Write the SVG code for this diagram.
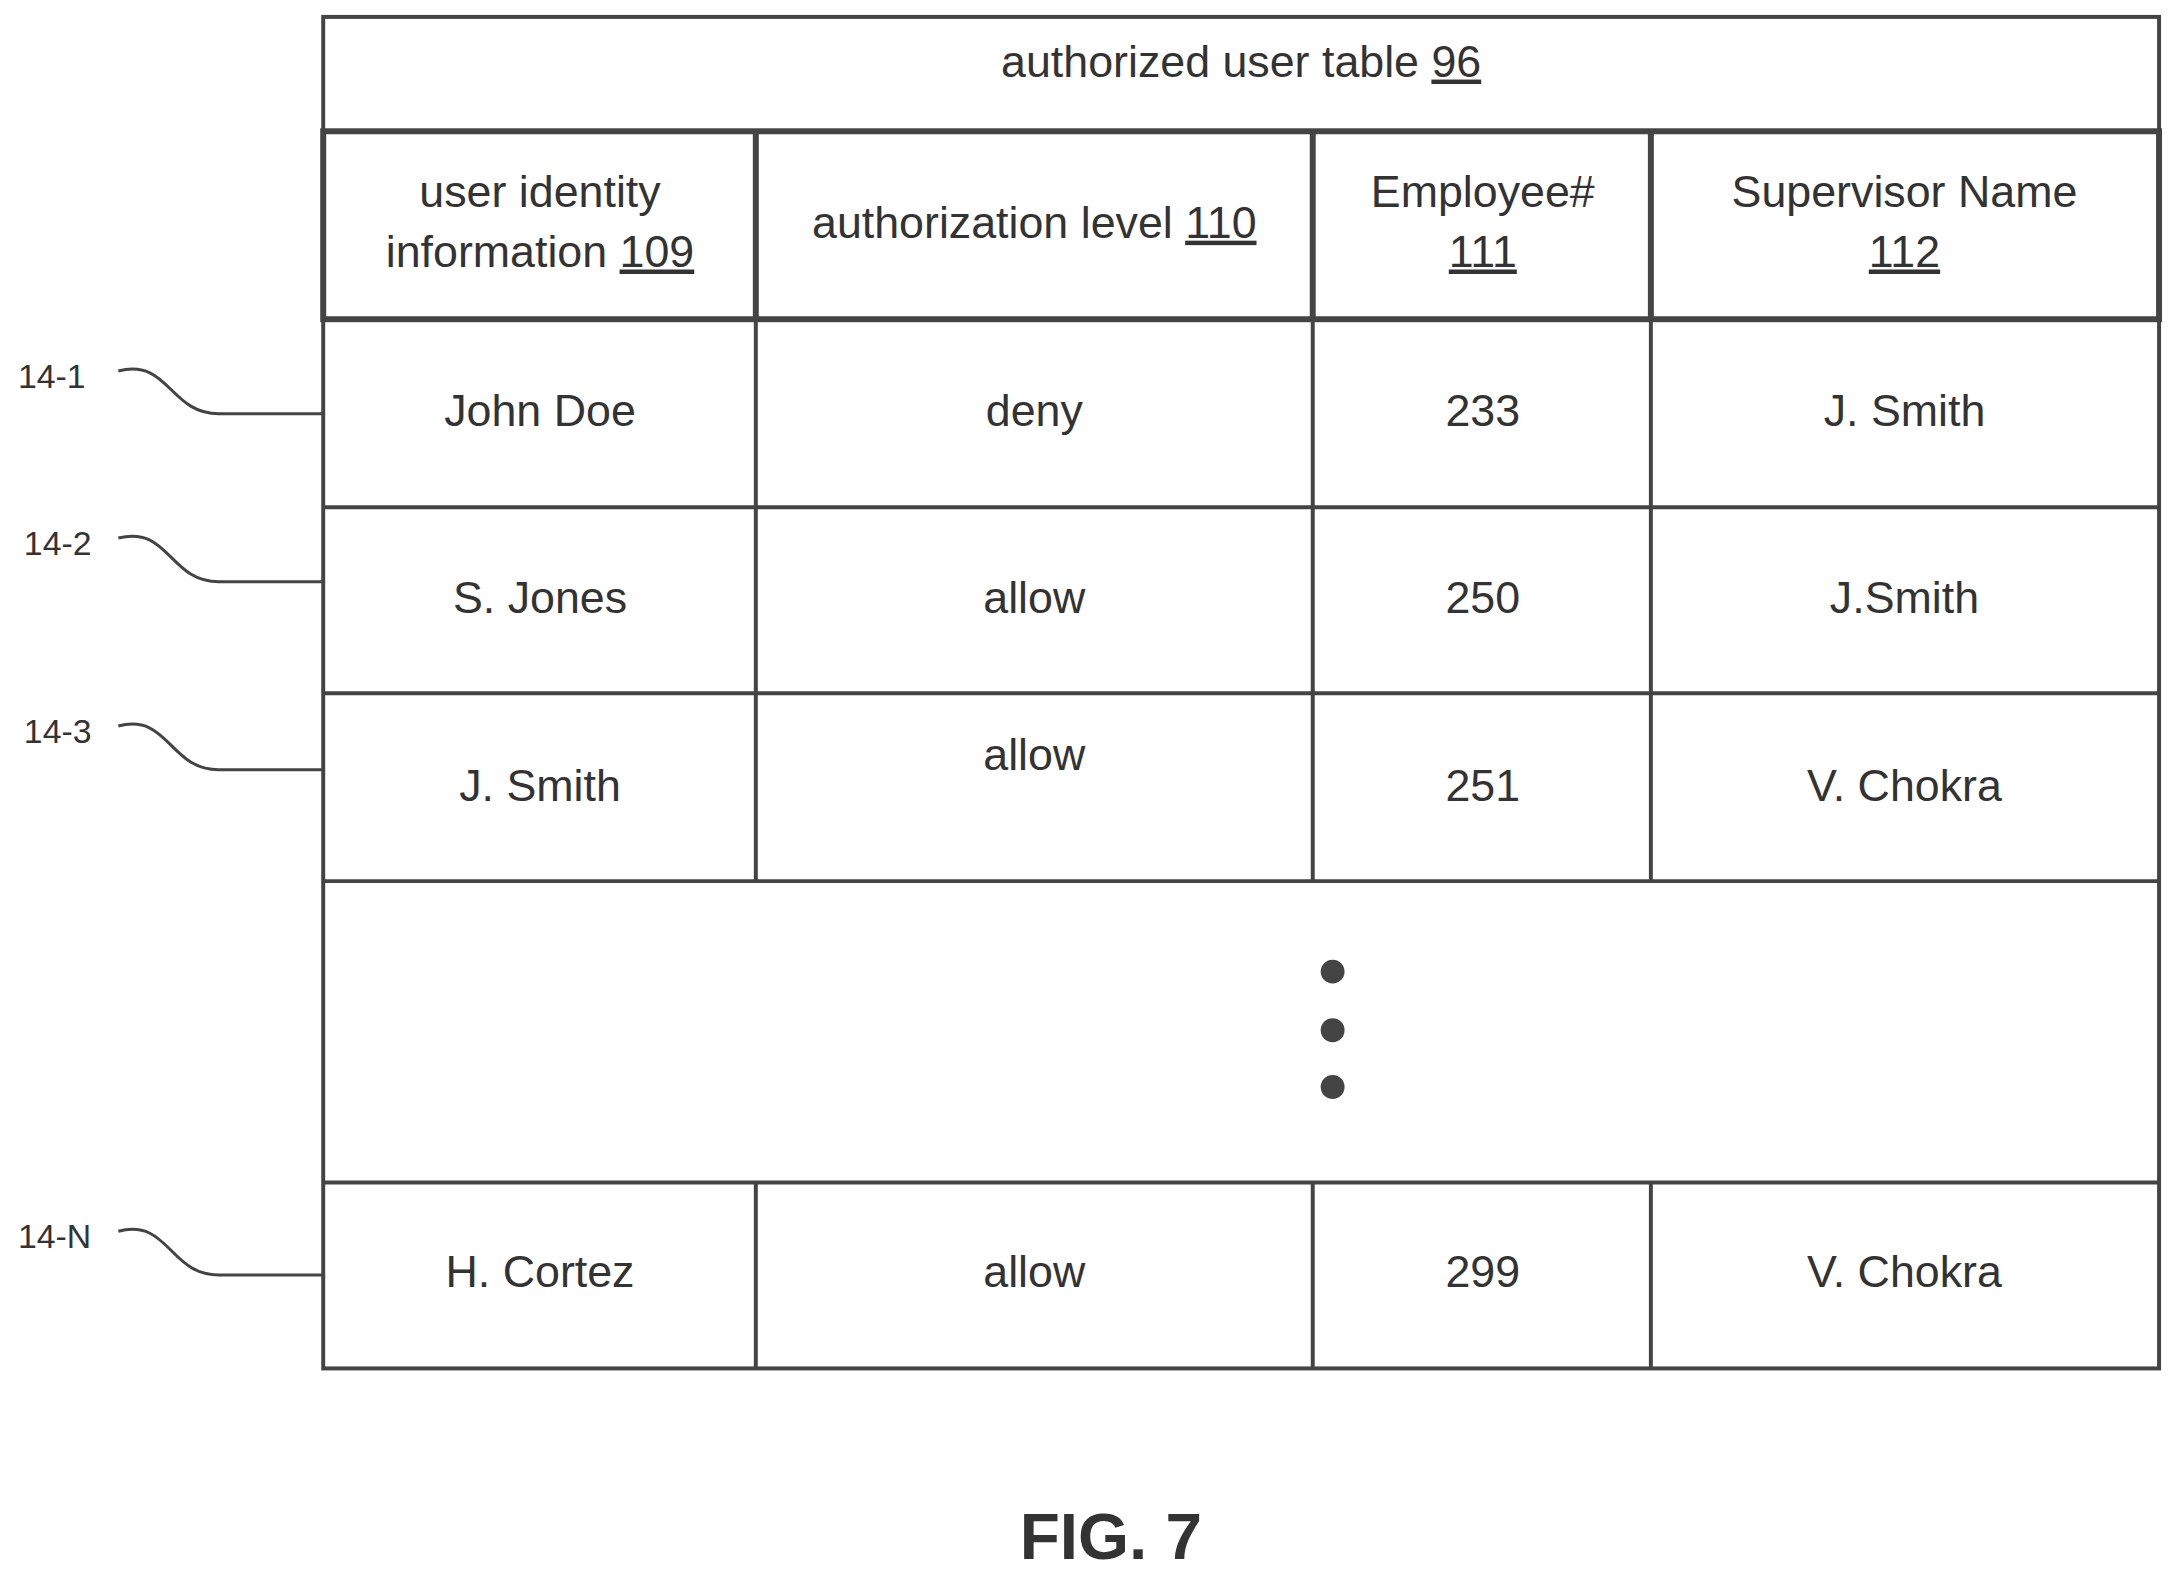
<svg xmlns="http://www.w3.org/2000/svg" width="2183" height="1585" viewBox="0 0 2183 1585">
<style>
text{font-family:"Liberation Sans",Arial,sans-serif;font-size:45px;fill:#333;text-anchor:middle}
.u{text-decoration:underline}
.lbl{font-size:34px;text-anchor:start}
.ln{stroke:#444;stroke-width:4;fill:none}
.hd{stroke:#444;stroke-width:6;fill:none}
.ld{stroke:#444;stroke-width:3;fill:none}
</style>
<rect width="2183" height="1585" fill="#fff"/>
<g transform="scale(0.9945)">
<g id="table">
<rect class="ln" x="325" y="17" width="1846" height="1359"/>
<rect class="hd" x="325" y="132" width="1846" height="189"/>
<line class="hd" x1="760" y1="132" x2="760" y2="321"/>
<line class="hd" x1="1320" y1="132" x2="1320" y2="321"/>
<line class="hd" x1="1660" y1="132" x2="1660" y2="321"/>
<line class="ln" x1="325" y1="510" x2="2171" y2="510"/>
<line class="ln" x1="325" y1="697" x2="2171" y2="697"/>
<line class="ln" x1="325" y1="886" x2="2171" y2="886"/>
<line class="ln" x1="325" y1="1189" x2="2171" y2="1189"/>
<line class="ln" x1="760" y1="321" x2="760" y2="886"/>
<line class="ln" x1="1320" y1="321" x2="1320" y2="886"/>
<line class="ln" x1="1660" y1="321" x2="1660" y2="886"/>
<line class="ln" x1="760" y1="1189" x2="760" y2="1376"/>
<line class="ln" x1="1320" y1="1189" x2="1320" y2="1376"/>
<line class="ln" x1="1660" y1="1189" x2="1660" y2="1376"/>
<text x="1248" y="77">authorized user table <tspan class="u">96</tspan></text>
<text x="543" y="208">user identity</text>
<text x="543" y="268">information <tspan class="u">109</tspan></text>
<text x="1040" y="239">authorization level <tspan class="u">110</tspan></text>
<text x="1491" y="208">Employee#</text>
<text x="1491" y="268" class="u">111</text>
<text x="1915" y="208">Supervisor Name</text>
<text x="1915" y="268" class="u">112</text>
<text x="543" y="428">John Doe</text><text x="1040" y="428">deny</text><text x="1491" y="428">233</text><text x="1915" y="428">J. Smith</text>
<text x="543" y="616">S. Jones</text><text x="1040" y="616">allow</text><text x="1491" y="616">250</text><text x="1915" y="616">J.Smith</text>
<text x="543" y="805">J. Smith</text><text x="1040" y="774">allow</text><text x="1491" y="805">251</text><text x="1915" y="805">V. Chokra</text>
<text x="543" y="1294">H. Cortez</text><text x="1040" y="1294">allow</text><text x="1491" y="1294">299</text><text x="1915" y="1294">V. Chokra</text>
<circle cx="1340" cy="977" r="12" fill="#444"/>
<circle cx="1340" cy="1036" r="12" fill="#444"/>
<circle cx="1340" cy="1093" r="12" fill="#444"/>
</g>
<g id="connectors">
<path class="ld" d="M119,373 C170,360 170,416 220,416 L325,416"/>
<path class="ld" d="M119,541 C170,528 170,585 220,585 L325,585"/>
<path class="ld" d="M119,730 C170,717 170,774 220,774 L325,774"/>
<path class="ld" d="M119,1238 C170,1225 170,1282 220,1282 L325,1282"/>
</g>
<g id="labels">
<text class="lbl" x="18" y="390">14-1</text>
<text class="lbl" x="24" y="558">14-2</text>
<text class="lbl" x="24" y="747">14-3</text>
<text class="lbl" x="18" y="1255">14-N</text>
<text x="1117" y="1568" style="font-size:66px;font-weight:bold">FIG. 7</text>
</g>
</g>
</svg>
